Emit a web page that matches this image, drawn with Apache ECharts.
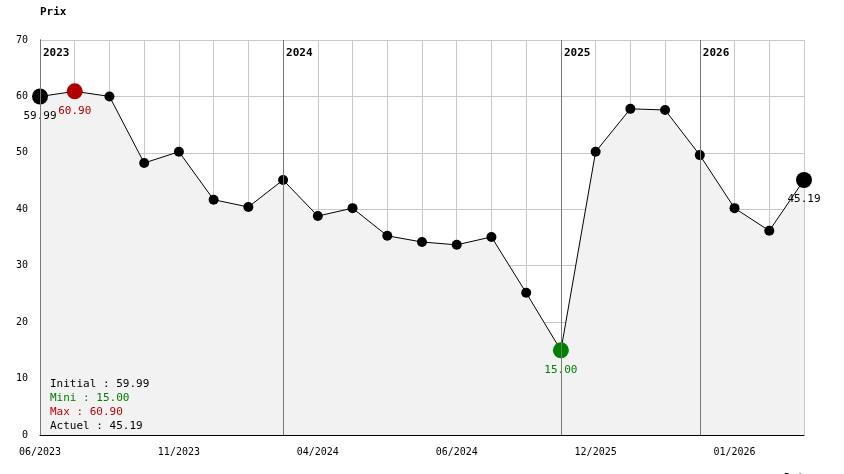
<!DOCTYPE html>
<html><head><meta charset="utf-8">
<script src="https://cdn.jsdelivr.net/npm/echarts@6/dist/echarts.min.js"></script>
<style>body{margin:0;background:#fff}#c{width:844px;height:474px}</style>
</head><body><div id="c"></div>
<script>
const dates = ['06/2023','','','','11/2023','','','','04/2024','','','','06/2024','','','','12/2025','','','','01/2026','',''];
const prices = [59.99,60.90,60.0,48.2,50.2,41.7,40.4,45.2,38.8,40.2,35.3,34.2,33.7,35.1,25.2,15.00,50.2,57.8,57.6,49.6,40.2,36.2,45.19];
const yearIdx = [0,7,15,19];
const yearLabels = ['2023','2024','2025','2026'];
const FONT = 'DejaVu Sans Mono';

const special = {0:['#000','59.99'],1:['#b00000','60.90'],15:['#008000','15.00'],22:['#000','45.19']};
const data = prices.map((v,i)=>{
  const s = special[i];
  if(!s) return {value:v};
  return {value:v, symbolSize:16, itemStyle:{color:s[0]},
    label:{show:true, position:'bottom', distance:6, formatter:s[1], color:s[0], fontFamily:FONT, fontSize:11}};
});

const chart = echarts.init(document.getElementById('c'));
chart.setOption({
  animation:false,
  grid:{left:40,right:40,top:40,bottom:39,outerBoundsMode:'none',containLabel:false},
  textStyle:{fontFamily:FONT},
  xAxis:{type:'category',data:dates,boundaryGap:false,
    axisLine:{lineStyle:{color:'#000'}},axisTick:{show:false},
    axisLabel:{interval:0,color:'#000',fontSize:10,fontFamily:FONT,showMaxLabel:false,margin:12},
    splitLine:{show:true,interval:0,lineStyle:{color:'#c8c8c8'}},
    name:'Date',nameLocation:'end',nameGap:-20,nameTextStyle:{fontWeight:'bold',fontSize:11,color:'#000',padding:[38,0,0,0],verticalAlign:'top'}},
  yAxis:{type:'value',min:0,max:70,interval:10,
    axisLine:{show:true,lineStyle:{color:'#000'}},axisTick:{show:false},
    axisLabel:{color:'#000',fontSize:10,fontFamily:FONT,margin:12},
    splitLine:{lineStyle:{color:'#c8c8c8'}},
    name:'Prix',nameLocation:'end',nameGap:22,nameTextStyle:{fontWeight:'bold',fontSize:11,color:'#000',align:'left'}},
  series:[{type:'line',data:data,symbol:'circle',symbolSize:10,
    lineStyle:{color:'#000',width:1},itemStyle:{color:'#000'},
    areaStyle:{color:'#f2f2f2',opacity:1},
    markLine:{symbol:'none',silent:true,
      lineStyle:{color:'#777',type:'solid',width:1},
      data:yearIdx.map((ix,k)=>({xAxis:ix,label:{formatter:yearLabels[k],position:'end',color:'#000',fontWeight:'bold',fontSize:11,fontFamily:FONT,align:'left',offset:[3,24]}}))}
  }],
  graphic:[{type:'text',left:50,top:379,z:100,style:{
    rich:{k:{fill:'#000',fontFamily:FONT,fontSize:11,lineHeight:14},g:{fill:'#008000',fontFamily:FONT,fontSize:11,lineHeight:14},r:{fill:'#c00000',fontFamily:FONT,fontSize:11,lineHeight:14}},
    text:'{k|Initial : 59.99}\n{g|Mini : 15.00}\n{r|Max : 60.90}\n{k|Actuel : 45.19}'}}]
});
</script></body></html>
